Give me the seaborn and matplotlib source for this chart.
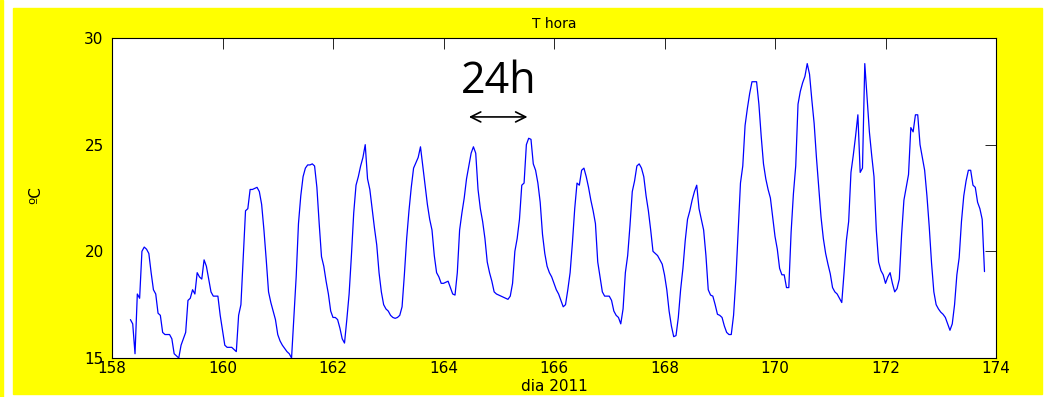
import numpy as np
import pandas as pd
import seaborn as sns
import matplotlib.pyplot as plt
from matplotlib.patches import Rectangle

# hourly temperature (ºC), starting day 158 at 08:00
start_day = 158 + 8 / 24
temp = [
    16.8, 16.6, 15.2, 18.0, 17.8, 20.0, 20.2, 20.1, 19.9, 19.0, 18.2, 18.0,
    17.1, 17.0, 16.2, 16.1, 16.1, 16.1, 15.9, 15.2, 15.1, 15.0, 15.6, 15.9,
    16.2, 17.7, 17.8, 18.2, 18.0, 19.0, 18.8, 18.7, 19.6, 19.3, 18.7, 18.1,
    17.9, 17.9, 17.9, 17.0, 16.3, 15.6, 15.5, 15.5, 15.5, 15.4, 15.3, 17.0,
    17.5, 19.7, 21.9, 22.0, 22.9, 22.9, 22.95, 23.0, 22.8, 22.2, 21.0, 19.6,
    18.1, 17.6, 17.2, 16.8, 16.1, 15.8, 15.6, 15.45, 15.3, 15.2, 15.0, 16.9,
    18.8, 21.3, 22.6, 23.5, 23.9, 24.05, 24.05, 24.1, 24.0, 23.0, 21.3, 19.75,
    19.3, 18.6, 18.0, 17.2, 16.9, 16.9, 16.8, 16.4, 15.9, 15.7, 16.8, 18.0,
    19.8, 21.8, 23.1, 23.5, 24.0, 24.4, 25.0, 23.4, 22.9, 22.0, 21.1, 20.3,
    19.0, 18.1, 17.5, 17.3, 17.2, 17.0, 16.9, 16.86, 16.9, 17.0, 17.4, 18.9,
    20.6, 21.9, 23.0, 23.9, 24.15, 24.4, 24.9, 24.0, 23.1, 22.2, 21.5, 21.0,
    19.8, 19.0, 18.8, 18.5, 18.5, 18.55, 18.6, 18.3, 18.0, 17.95, 19.0, 21.0,
    21.8, 22.5, 23.4, 24.0, 24.6, 24.9, 24.6, 22.9, 22.0, 21.4, 20.6, 19.5,
    19.0, 18.6, 18.1, 18.0, 17.95, 17.9, 17.85, 17.8, 17.75, 17.9, 18.5, 20.0,
    20.6, 21.5, 23.1, 23.2, 25.0, 25.3, 25.25, 24.1, 23.8, 23.2, 22.3, 20.8,
    19.9, 19.3, 19.0, 18.8, 18.5, 18.2, 18.0, 17.7, 17.4, 17.5, 18.2, 19.0,
    20.4, 22.0, 23.2, 23.1, 23.8, 23.9, 23.5, 23.0, 22.4, 21.9, 21.3, 19.5,
    18.8, 18.1, 17.9, 17.9, 17.9, 17.7, 17.2, 17.0, 16.9, 16.6, 17.3, 19.0,
    19.8, 21.2, 22.8, 23.3, 24.0, 24.1, 23.9, 23.5, 22.6, 21.9, 21.0, 20.0,
    19.9, 19.8, 19.6, 19.4, 18.9, 18.2, 17.2, 16.5, 16.0, 16.05, 16.9, 18.2,
    19.2, 20.5, 21.5, 21.9, 22.4, 22.8, 23.1, 22.0, 21.5, 21.0, 19.8, 18.2,
    17.95, 17.9, 17.5, 17.05, 17.0, 16.9, 16.5, 16.2, 16.1, 16.1, 17.0, 18.7,
    20.9, 23.2, 24.0, 25.9, 26.7, 27.4, 27.95, 27.95, 27.95, 26.9, 25.4, 24.1,
    23.4, 22.9, 22.5, 21.6, 20.7, 20.1, 19.2, 18.9, 18.9, 18.3, 18.3, 20.9,
    22.7, 24.0, 26.9, 27.5, 27.9, 28.2, 28.8, 28.3, 27.1, 26.0, 24.4, 23.0,
    21.6, 20.6, 19.9, 19.4, 18.95, 18.3, 18.1, 18.0, 17.8, 17.6, 19.0, 20.5,
    21.4, 23.7, 24.5, 25.4, 26.4, 23.7, 23.9, 28.8, 27.2, 25.6, 24.5, 23.5,
    21.0, 19.5, 19.1, 18.9, 18.5, 18.8, 19.0, 18.5, 18.1, 18.25, 18.7, 20.8,
    22.4, 23.0, 23.6, 25.8, 25.6, 26.4, 26.4, 25.0, 24.4, 23.8, 22.6, 21.15,
    19.45, 18.1, 17.5, 17.3, 17.15, 17.05, 16.9, 16.6, 16.3, 16.6, 17.5, 18.9,
    19.7, 21.4, 22.6, 23.3, 23.8, 23.8, 23.1, 23.0, 22.3, 22.0, 21.5, 19.05,
]
xticks = [158, 160, 162, 164, 166, 168, 170, 172, 174]
yticks = [15, 20, 25, 30]

df = pd.DataFrame({"dia": start_day + np.arange(len(temp)) / 24, "T": temp})

sns.set_style("white")
plt.rcParams["font.family"] = ["DejaVu Sans"]
plt.rcParams["text.color"] = "black"
plt.rcParams["axes.labelcolor"] = "black"

fig = plt.figure(figsize=(10.48, 3.97), dpi=100, facecolor="white")
# yellow frame behind the axes
fig.add_artist(Rectangle((13 / 1048, 1 - 394 / 397), 1029 / 1048, 386 / 397,
                         transform=fig.transFigure, color="#ffff00", zorder=-10))
fig.add_artist(Rectangle((0, 0), 3 / 1048, 1, transform=fig.transFigure,
                         color="#ffff00", zorder=-10))

ax = fig.add_axes([112 / 1048, 1 - 358 / 397, 884 / 1048, 320 / 397])
ax.set_zorder(1)
ax.set_facecolor("white")
sns.lineplot(data=df, x="dia", y="T", ax=ax, color="#0000ff", linewidth=0.9)

ax.set_xlim(158, 174)
ax.set_ylim(15, 30)
ax.set_xticks(xticks)
ax.set_yticks(yticks)
ax.tick_params(direction="in", length=8, width=0.6, top=True, right=True,
               labelsize=11, colors="black")
ax.tick_params(axis="x", pad=2)
ax.tick_params(axis="y", pad=6)
for s in ax.spines.values():
    s.set_visible(True)
    s.set_color("black")
    s.set_linewidth(0.8)

ax.set_title("T hora", fontsize=10, pad=7, color="black")
ax.set_xlabel("dia 2011", fontsize=11, labelpad=2)
ax.set_ylabel("ºC", fontsize=11)
ax.yaxis.set_label_coords(-0.078, 0.51)

ax.text(165.0, 27.4, "24h", fontsize=31, family=["Open Sans", "DejaVu Sans"],
        ha="center", va="baseline", color="black")
ax.annotate("", xy=(164.46, 26.3), xytext=(165.52, 26.3),
            arrowprops=dict(arrowstyle="<->", color="black", lw=1.2,
                            shrinkA=0, shrinkB=0, mutation_scale=18))

fig.savefig("out.png", dpi=100, facecolor=fig.get_facecolor())
